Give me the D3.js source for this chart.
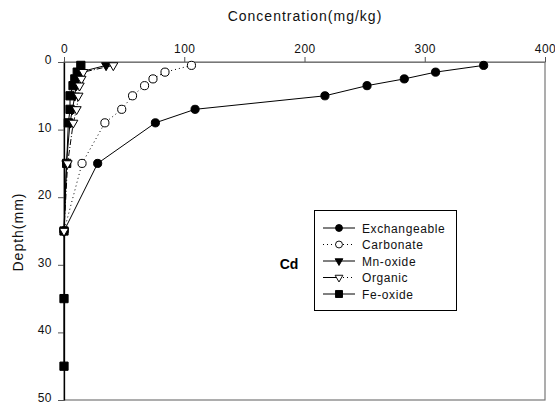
<!DOCTYPE html>
<html>
<head>
<meta charset="utf-8">
<script src="https://cdn.jsdelivr.net/npm/d3@7"></script>
<style>
  html, body { margin: 0; padding: 0; background: #fff; }
  svg { display: block; font-family: "Liberation Sans", Arial, sans-serif; }
</style>
</head>
<body>
<svg id="chart" width="555" height="405"></svg>
<script>
// Sampling depths (mm) for Cd fractions
const depths = [0.5, 1.5, 2.5, 3.5, 5, 7, 9, 15, 25];
const feDepths = [0.5, 1.5, 2.5, 3.5, 5, 7, 9, 15, 25, 35, 45];

// Concentrations (mg/kg) per fraction
const exchangeable = [349, 309, 283, 252, 217, 109, 76, 28, 0];
const carbonate    = [106, 84, 74, 67, 57, 48, 34, 15, 0];
const mnOxide      = [35, 13, 11, 10, 9, 7, 5, 2, 0];
const organic      = [41, 16, 14.5, 13, 12, 10.5, 7.7, 3, 0];
const feOxide      = [14, 11, 9, 7.5, 5, 5, 3.6, 2.2, 0, 0, 0];

const xTicks = [0, 100, 200, 300, 400];
const yTicks = [0, 10, 20, 30, 40, 50];
const seriesNames = ["Exchangeable", "Carbonate", "Mn-oxide", "Organic", "Fe-oxide"];

const svg = d3.select("#chart");
const x = d3.scaleLinear().domain([0, 400]).range([64, 545]);
const y = d3.scaleLinear().domain([0, 50]).range([62, 400]);

// plot frame (right & bottom)
svg.append("rect")
  .attr("x", x(0)).attr("y", y(0))
  .attr("width", x(400) - x(0)).attr("height", y(50) - y(0))
  .attr("fill", "none").attr("stroke", "#777").attr("stroke-width", 1.2);

// top axis
const xAxis = svg.append("g").attr("transform", `translate(0,${y(0)})`)
  .call(d3.axisTop(x).tickValues(xTicks).tickSize(5).tickSizeOuter(0).tickPadding(4));
xAxis.select(".domain").attr("stroke", "#777").attr("stroke-width", 1.2);
xAxis.selectAll(".tick line").attr("stroke", "#555");
xAxis.selectAll("text").attr("font-size", 12).attr("letter-spacing", 0.5)
  .attr("fill", "#111").attr("font-family", "Liberation Sans, Arial, sans-serif");

// left axis
const yAxis = svg.append("g").attr("transform", `translate(${x(0)},0)`)
  .call(d3.axisLeft(y).tickValues(yTicks).tickSize(6).tickSizeOuter(0).tickPadding(6));
yAxis.select(".domain").attr("stroke", "#000").attr("stroke-width", 1.3);
yAxis.selectAll(".tick line").attr("stroke", "#555");
yAxis.selectAll("text").attr("font-size", 12).attr("letter-spacing", 0.5)
  .attr("dy", "0.12em")
  .attr("fill", "#111").attr("font-family", "Liberation Sans, Arial, sans-serif");

// axis titles
svg.append("text").attr("x", 305).attr("y", 21).attr("text-anchor", "middle")
  .attr("font-size", 14).attr("letter-spacing", 1).attr("fill", "#111")
  .text("Concentration(mg/kg)");
svg.append("text").attr("transform", "translate(23,232) rotate(-90)")
  .attr("text-anchor", "middle").attr("font-size", 14).attr("letter-spacing", 1)
  .attr("fill", "#111").text("Depth(mm)");

// element label
svg.append("text").attr("x", 289).attr("y", 269).attr("text-anchor", "middle")
  .attr("font-size", 14).attr("font-weight", "bold").attr("fill", "#000").text("Cd");

const sym = {
  circle: d3.symbol().type(d3.symbolCircle).size(52)(),
  square: d3.symbol().type(d3.symbolSquare).size(68)(),
  tri: d3.symbol().type(d3.symbolTriangle).size(36)()
};

const series = [
  { name: seriesNames[0], d: depths, v: exchangeable, dash: null, shape: sym.circle, rot: 0, fill: "#000" },
  { name: seriesNames[1], d: depths, v: carbonate, dash: "1,3", shape: sym.circle, rot: 0, fill: "#fff" },
  { name: seriesNames[4], d: feDepths, v: feOxide, dash: null, shape: sym.square, rot: 0, fill: "#000" },
  { name: seriesNames[2], d: depths, v: mnOxide, dash: null, shape: sym.tri, rot: 180, fill: "#000" },
  { name: seriesNames[3], d: depths, v: organic, dash: "6,2,1,2", shape: sym.tri, rot: 180, fill: "#fff" }
];

const line = d3.line().x(p => x(p[0])).y(p => y(p[1]));

series.forEach(s => {
  const pts = s.v.map((val, i) => [val, s.d[i]]);
  svg.append("path").attr("d", line(pts)).attr("fill", "none")
    .attr("stroke", "#000").attr("stroke-width", 1)
    .attr("stroke-dasharray", s.dash);
  svg.append("g").selectAll("path").data(pts).join("path")
    .attr("d", s.shape)
    .attr("transform", p => `translate(${x(p[0])},${y(p[1])}) rotate(${s.rot})`)
    .attr("fill", s.fill).attr("stroke", "#000").attr("stroke-width", 1);
});

// legend
const lg = svg.append("g");
lg.append("rect").attr("x", 314.5).attr("y", 210.5).attr("width", 142).attr("height", 100)
  .attr("fill", "#fff").attr("stroke", "#000").attr("stroke-width", 1);
const legendItems = [
  { name: seriesNames[0], left: null, right: null, shape: sym.circle, rot: 0, fill: "#000" },
  { name: seriesNames[1], left: "1,3", right: "1,3", shape: sym.circle, rot: 0, fill: "#fff" },
  { name: seriesNames[2], left: null, right: null, shape: sym.tri, rot: 180, fill: "#000" },
  { name: seriesNames[3], left: null, right: "1,3", shape: sym.tri, rot: 180, fill: "#fff" },
  { name: seriesNames[4], left: null, right: null, shape: sym.square, rot: 0, fill: "#000" }
];
legendItems.forEach((it, i) => {
  const ly = 228 + i * 16.5;
  lg.append("line").attr("x1", 323).attr("x2", 339).attr("y1", ly).attr("y2", ly)
    .attr("stroke", "#000").attr("stroke-dasharray", it.left);
  lg.append("line").attr("x1", 339).attr("x2", 355).attr("y1", ly).attr("y2", ly)
    .attr("stroke", "#000").attr("stroke-dasharray", it.right);
  lg.append("path").attr("d", it.shape)
    .attr("transform", `translate(339,${ly}) rotate(${it.rot}) scale(0.85)`)
    .attr("fill", it.fill).attr("stroke", "#000").attr("stroke-width", 1.1);
  lg.append("text").attr("x", 362).attr("y", ly + 4.5)
    .attr("font-size", 12).attr("letter-spacing", 0.6).attr("fill", "#111").text(it.name);
});
</script>
</body>
</html>
